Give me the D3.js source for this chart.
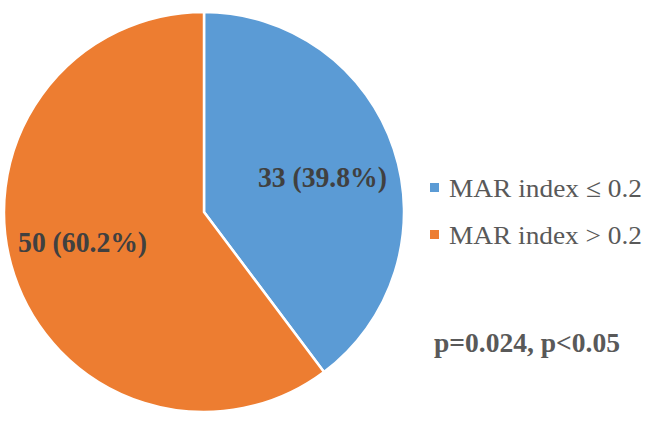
<!DOCTYPE html>
<html>
<head>
<meta charset="utf-8">
<script src="https://cdn.jsdelivr.net/npm/d3@7"></script>
<style>
  html, body { margin: 0; padding: 0; background: #ffffff; }
  svg { display: block; }
  text { font-family: "Liberation Serif", "Times New Roman", serif; }
</style>
</head>
<body>
<svg id="chart" width="648" height="425"></svg>
<script>
const categories = ["MAR index \u2264 0.2", "MAR index > 0.2"];
const counts = [33, 50];
const percents = ["39.8%", "60.2%"];
const colors = ["#5B9BD5", "#ED7D31"];
const note = "p=0.024, p<0.05";

const svg = d3.select("#chart");
const cx = 204, cy = 212, r = 200;

const pie = d3.pie().sort(null).value(d => d)(counts);
const arc = d3.arc().innerRadius(0).outerRadius(r);
const labelArc = d3.arc().innerRadius(124).outerRadius(124);

const g = svg.append("g").attr("transform", `translate(${cx},${cy})`);

g.selectAll("path.slice")
  .data(pie)
  .join("path")
  .attr("class", "slice")
  .attr("d", arc)
  .attr("fill", (d, i) => colors[i])
  .attr("stroke", "#ffffff")
  .attr("stroke-width", 2.5)
  .attr("stroke-linejoin", "round");

const nudges = [[0.8, 3.6], [-3.8, -9.4]];
g.selectAll("text.lbl")
  .data(pie)
  .join("text")
  .attr("class", "lbl")
  .each(function(d, i) {
    const [x, y] = labelArc.centroid(d);
    d3.select(this)
      .attr("x", x + nudges[i][0])
      .attr("y", y + nudges[i][1] + 10.5);
  })
  .attr("text-anchor", "middle")
  .attr("font-size", 30)
  .attr("font-weight", "bold")
  .attr("fill", "#404040")
  .attr("textLength", 129)
  .attr("lengthAdjust", "spacingAndGlyphs")
  .text((d, i) => `${counts[i]} (${percents[i]})`);

// Legend
const legend = svg.append("g").attr("transform", "translate(430,183)");
const row = legend.selectAll("g.row")
  .data(categories)
  .join("g")
  .attr("class", "row")
  .attr("transform", (d, i) => `translate(0,${i * 47})`);

row.append("rect")
  .attr("width", 9)
  .attr("height", 9)
  .attr("fill", (d, i) => colors[i]);

row.append("text")
  .attr("x", 19)
  .attr("y", 14)
  .attr("font-size", 26)
  .attr("fill", "#595959")
  .attr("textLength", 193)
  .attr("lengthAdjust", "spacingAndGlyphs")
  .text(d => d);

svg.append("text")
  .attr("x", 434)
  .attr("y", 352)
  .attr("font-size", 27)
  .attr("font-weight", "bold")
  .attr("fill", "#595959")
  .attr("textLength", 186)
  .attr("lengthAdjust", "spacingAndGlyphs")
  .text(note);
</script>
</body>
</html>
